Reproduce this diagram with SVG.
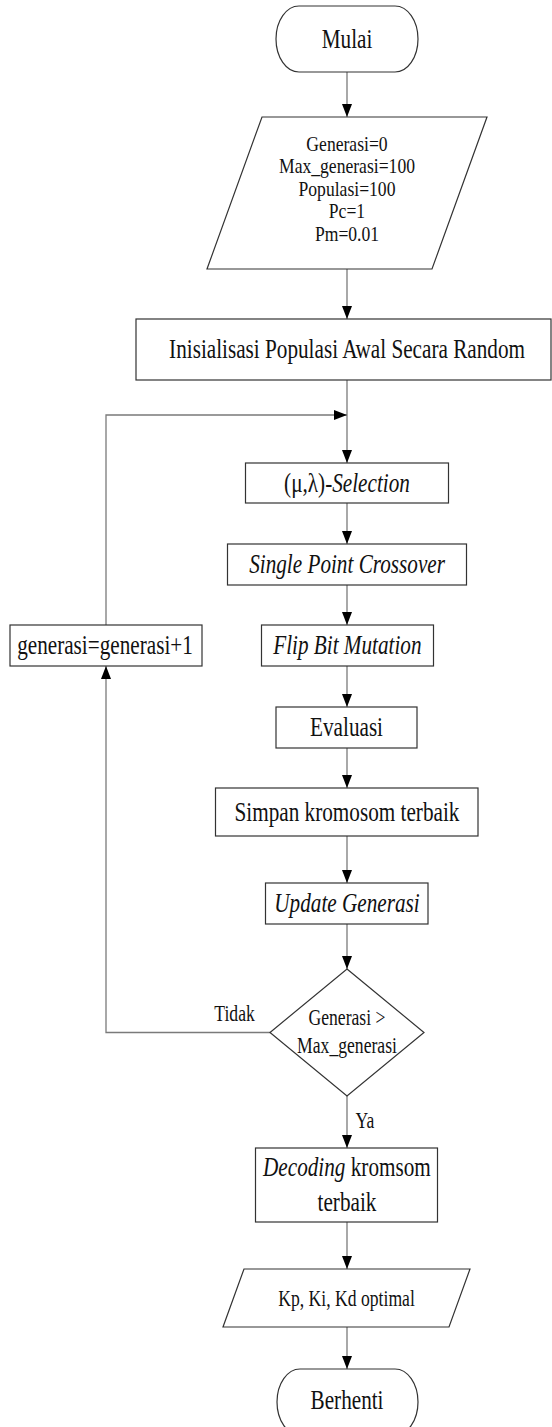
<svg xmlns="http://www.w3.org/2000/svg" width="552" height="1427" viewBox="0 0 552 1427">
<defs>
<style>
.s{fill:#fff;stroke:#333;stroke-width:1.2}
.c{fill:none;stroke:#7a7a7a;stroke-width:1.3}
text{font-family:"Liberation Serif","Times New Roman",serif;fill:#111;text-anchor:middle;transform-box:fill-box;transform-origin:center;transform:scaleX(0.8)}
.b{font-size:26.5px}
.m{font-size:23.5px;transform:scaleX(0.75)}
.p{font-size:20px;transform:scaleX(0.88)}
.i{font-style:italic}
</style>
<marker id="ah" markerWidth="13" markerHeight="10" refX="13" refY="5" orient="auto" markerUnits="userSpaceOnUse"><path d="M0,0 L13,5 L0,10 z" fill="#000"/></marker>
</defs>
<rect width="552" height="1427" fill="#fff"/>
<g id="connectors">
<path class="c" d="M347,72 V117" marker-end="url(#ah)"/>
<path class="c" d="M347,269 V319" marker-end="url(#ah)"/>
<path class="c" d="M347,380 V463" marker-end="url(#ah)"/>
<path class="c" d="M347,503 V544" marker-end="url(#ah)"/>
<path class="c" d="M347,585 V625" marker-end="url(#ah)"/>
<path class="c" d="M347,666 V707" marker-end="url(#ah)"/>
<path class="c" d="M347,748 V788" marker-end="url(#ah)"/>
<path class="c" d="M347,836 V883" marker-end="url(#ah)"/>
<path class="c" d="M347,924 V969" marker-end="url(#ah)"/>
<path class="c" d="M270,1032.5 H106 V666" marker-end="url(#ah)"/>
<path class="c" d="M106,625 V415 H347" marker-end="url(#ah)"/>
<path class="c" d="M347,1096 V1148" marker-end="url(#ah)"/>
<path class="c" d="M347,1222 V1269" marker-end="url(#ah)"/>
<path class="c" d="M347,1327 V1369" marker-end="url(#ah)"/>
<text class="m" x="234.5" y="1021">Tidak</text>
<text class="m" x="365" y="1128">Ya</text>
</g>
<g id="mulai">
<rect class="s" x="276" y="6" width="142" height="66" rx="23" ry="33"/>
<text class="b" x="347" y="48">Mulai</text>
</g>
<g id="parameter">
<polygon class="s" points="262,117 487,117 432,269 207,269"/>
<text class="p" x="347" y="151">Generasi=0</text>
<text class="p" x="347" y="173.5">Max_generasi=100</text>
<text class="p" x="347" y="196">Populasi=100</text>
<text class="p" x="347" y="218.5">Pc=1</text>
<text class="p" x="347" y="241">Pm=0.01</text>
</g>
<g id="inisialisasi">
<rect class="s" x="136" y="319" width="415" height="61"/>
<text class="b" x="347" y="358">Inisialisasi Populasi Awal Secara Random</text>
</g>
<g id="selection">
<rect class="s" x="245.5" y="463" width="203" height="40"/>
<text class="b" x="347" y="492">(μ,λ)-<tspan class="i">Selection</tspan></text>
</g>
<g id="crossover">
<rect class="s" x="227.5" y="544" width="239" height="41"/>
<text class="b i" x="347" y="573">Single Point Crossover</text>
</g>
<g id="mutation">
<rect class="s" x="261.5" y="625" width="172" height="41"/>
<text class="b i" x="347.5" y="654">Flip Bit Mutation</text>
</g>
<g id="increment">
<rect class="s" x="10" y="625" width="192" height="41"/>
<text class="b" x="105" y="654">generasi=generasi+1</text>
</g>
<g id="evaluasi">
<rect class="s" x="276" y="707" width="141" height="41"/>
<text class="b" x="346.5" y="736">Evaluasi</text>
</g>
<g id="simpan">
<rect class="s" x="215.5" y="788" width="262.5" height="48"/>
<text class="b" x="347" y="821">Simpan kromosom terbaik</text>
</g>
<g id="update">
<rect class="s" x="265.5" y="883" width="162.5" height="41"/>
<text class="b i" x="347" y="912">Update Generasi</text>
</g>
<g id="decision">
<polygon class="s" points="347,969 424,1032.5 347,1096 270,1032.5"/>
<text class="m" x="347" y="1025">Generasi &gt;</text>
<text class="m" x="347" y="1053">Max_generasi</text>
</g>
<g id="decoding">
<rect class="s" x="255.5" y="1148" width="182" height="74"/>
<text class="b" x="347" y="1176"><tspan class="i">Decoding</tspan> kromsom</text>
<text class="b" x="347" y="1211">terbaik</text>
</g>
<g id="output">
<polygon class="s" points="244,1269 470,1269 449,1327 223,1327"/>
<text class="m" x="346.5" y="1306">Kp, Ki, Kd optimal</text>
</g>
<g id="berhenti">
<rect class="s" x="277" y="1369" width="141" height="66" rx="23" ry="33"/>
<text class="b" x="347" y="1409">Berhenti</text>
</g>
</svg>
